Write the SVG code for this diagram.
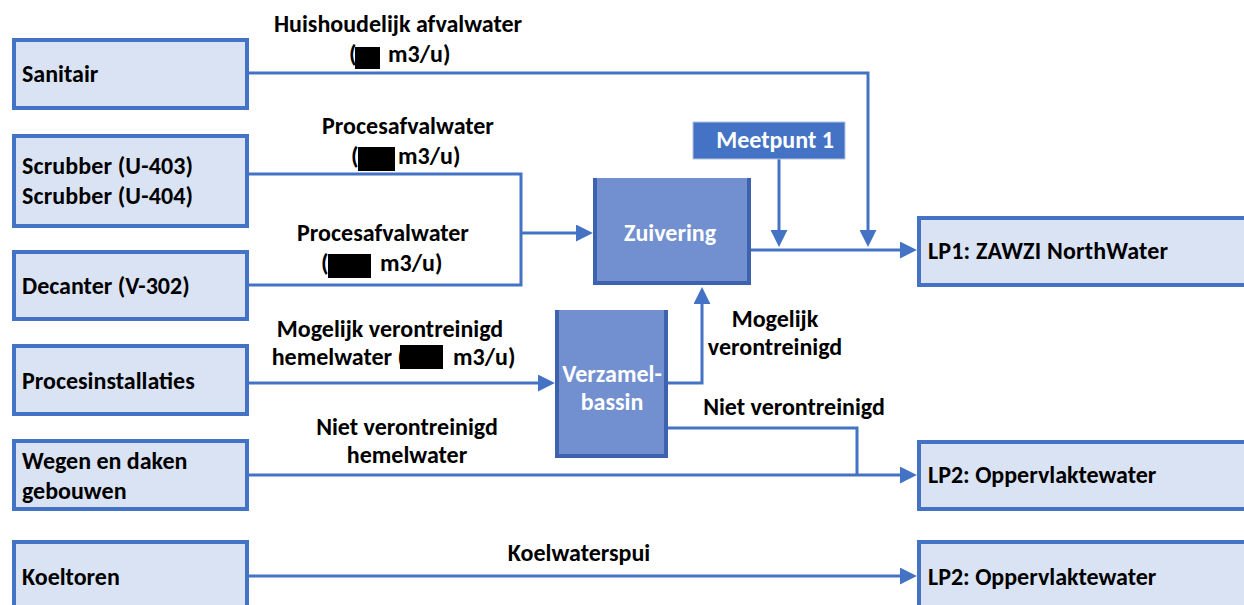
<svg xmlns="http://www.w3.org/2000/svg" width="1244" height="605" viewBox="0 0 1244 605">
<style>
.box{fill:#DAE3F3;stroke:#4472C4;stroke-width:4}
.t{font-family:Carlito,Calibri,Lato,"Open Sans",sans-serif;font-weight:700;font-size:24px;fill:#000}
.w{fill:#fff}
.m{text-anchor:middle}
.e{text-anchor:end}
.c{fill:none;stroke:#4472C4;stroke-width:3}
.a{marker-end:url(#arr)}
.proc{fill:#7290CF}
.edge{fill:#3D63AE}
</style>
<defs>
<marker id="arr" viewBox="0 0 10 10" refX="3" refY="5" markerWidth="17" markerHeight="17" markerUnits="userSpaceOnUse" orient="auto">
<path d="M0,0 L10,5 L0,10 z" fill="#4472C4"/>
</marker>
</defs>
<rect width="1244" height="605" fill="#fff"/>

<g id="connectors">
<path class="c a" d="M249,73 H868 V235"/>
<path class="c a" d="M779,159 V235"/>
<path class="c a" d="M751,250 H905"/>
<path class="c" d="M249,174 H521 V285 H249"/>
<path class="c a" d="M521,233 H581"/>
<path class="c a" d="M249,383 H543"/>
<path class="c a" d="M668,383 H702 V299"/>
<path class="c" d="M668,428 H857 V475"/>
<path class="c a" d="M249,475 H905"/>
<path class="c a" d="M249,576 H905"/>
</g>

<g id="labels">
<text class="t m" x="398" y="32">Huishoudelijk afvalwater</text>
<text class="t" x="349" y="62">(</text><rect x="355" y="47" width="25" height="22" fill="#000"/><text class="t" x="388" y="62">m3/u)</text>
<text class="t m" x="408" y="134">Procesafvalwater</text>
<text class="t" x="351" y="164">(</text><rect x="358" y="147" width="37" height="24" fill="#000"/><text class="t" x="398" y="164">m3/u)</text>
<text class="t m" x="383" y="241">Procesafvalwater</text>
<text class="t" x="321" y="271">(</text><rect x="328" y="254" width="43" height="24" fill="#000"/><text class="t" x="380" y="271">m3/u)</text>
<text class="t m" x="390" y="337">Mogelijk verontreinigd</text>
<text class="t e" x="405" y="365">hemelwater (</text><rect x="400" y="345" width="43" height="24" fill="#000"/><text class="t" x="453" y="365">m3/u)</text>
<text class="t m" x="407" y="435">Niet verontreinigd</text>
<text class="t m" x="407" y="463">hemelwater</text>
<text class="t m" x="775" y="327">Mogelijk</text>
<text class="t m" x="775" y="355">verontreinigd</text>
<text class="t m" x="794" y="415">Niet verontreinigd</text>
<text class="t m" x="579" y="561">Koelwaterspui</text>
</g>

<g id="sanitair"><rect class="box" x="14" y="40" width="233" height="68"/><text class="t" x="22" y="82">Sanitair</text></g>
<g id="scrubber"><rect class="box" x="14" y="136" width="233" height="90"/><text class="t" x="22" y="174" textLength="171">Scrubber (U-403)</text><text class="t" x="22" y="204" textLength="171">Scrubber (U-404)</text></g>
<g id="decanter"><rect class="box" x="14" y="252" width="233" height="67"/><text class="t" x="22" y="294">Decanter (V-302)</text></g>
<g id="procesinstallaties"><rect class="box" x="14" y="346" width="233" height="68"/><text class="t" x="22" y="389">Procesinstallaties</text></g>
<g id="wegen"><rect class="box" x="14" y="441" width="233" height="68"/><text class="t" x="22" y="469">Wegen en daken</text><text class="t" x="22" y="499">gebouwen</text></g>
<g id="koeltoren"><rect class="box" x="14" y="542" width="233" height="70"/><text class="t" x="22" y="585">Koeltoren</text></g>

<g id="lp1"><rect class="box" x="919" y="218" width="340" height="67"/><text class="t" x="928" y="259" textLength="240">LP1: ZAWZI NorthWater</text></g>
<g id="lp2a"><rect class="box" x="919" y="442" width="340" height="67"/><text class="t" x="928" y="483">LP2: Oppervlaktewater</text></g>
<g id="lp2b"><rect class="box" x="919" y="542" width="340" height="70"/><text class="t" x="928" y="585">LP2: Oppervlaktewater</text></g>

<g id="zuivering"><rect class="proc" x="593" y="178" width="158" height="107"/><rect class="edge" x="593" y="178" width="4" height="107"/><rect class="edge" x="747" y="178" width="4" height="107"/><rect class="edge" x="593" y="281" width="158" height="4"/><text class="t w m" x="670" y="241">Zuivering</text></g>
<g id="verzamelbassin"><rect class="proc" x="555" y="310" width="113" height="148"/><rect class="edge" x="555" y="310" width="4" height="148"/><rect class="edge" x="664" y="310" width="4" height="148"/><rect class="edge" x="555" y="454" width="113" height="4"/><text class="t w m" x="612" y="382">Verzamel-</text><text class="t w m" x="612" y="410">bassin</text></g>
<g id="meetpunt1"><rect x="693" y="122" width="152" height="37" fill="#4472C4" stroke="#B4C3DE" stroke-width="1"/><text class="t w m" x="775" y="148">Meetpunt 1</text></g>
</svg>
